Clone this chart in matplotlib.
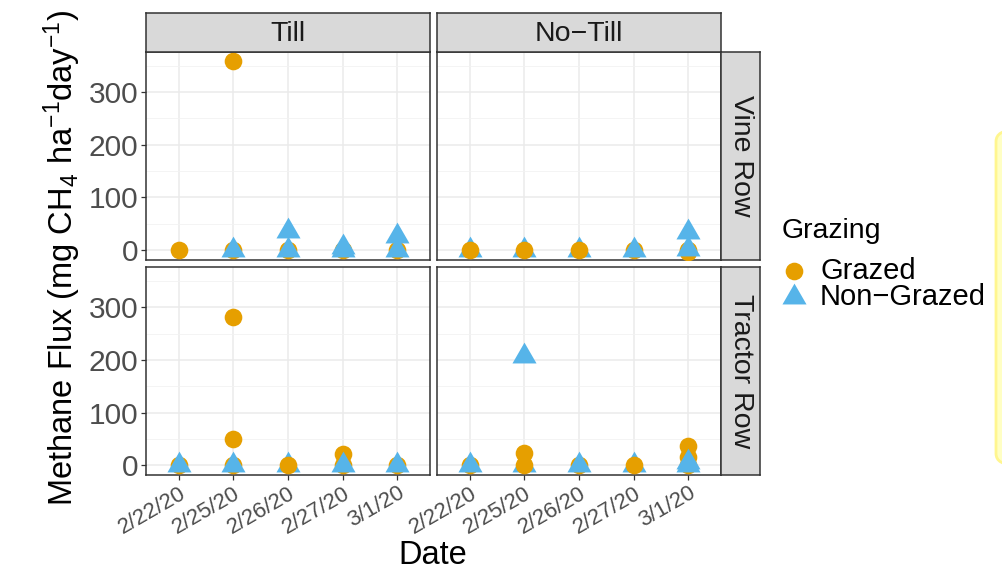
import matplotlib
matplotlib.use('Agg')
import matplotlib.pyplot as plt
from matplotlib.lines import Line2D
from matplotlib.path import Path
from matplotlib.patches import FancyBboxPatch
from matplotlib.ticker import MultipleLocator

plt.rcParams['font.family'] = ['Liberation Sans', 'DejaVu Sans']
plt.rcParams['mathtext.fontset'] = 'custom'
plt.rcParams['mathtext.rm'] = 'Liberation Sans'
plt.rcParams['mathtext.it'] = 'Liberation Sans:italic'

dates = ['2/22/20', '2/25/20', '2/26/20', '2/27/20', '3/1/20']
tillage = ['Till', 'No\u2212Till']
rows = ['Vine Row', 'Tractor Row']
groups = ['Grazed', 'Non\u2212Grazed']

# points per panel in drawing order: date index, flux, group (0 grazed, 1 non-grazed)
till_vine_date = [0, 1, 1, 1, 2, 2, 2, 3, 3, 3, 4, 4, 4]
till_vine_flux = [0, 358, 0, 0, 0, 0, 37, 0, 0, 5, 0, 0, 27]
till_vine_grp = [0, 0, 0, 1, 0, 1, 1, 0, 1, 1, 0, 1, 1]

notill_vine_date = [0, 0, 1, 1, 2, 2, 3, 3, 4, 4, 4, 4]
notill_vine_flux = [0, 0, 0, 0, 0, 0, 0, 0, -3, 0, 1, 34]
notill_vine_grp = [1, 0, 1, 0, 1, 0, 0, 1, 0, 0, 1, 1]

till_tractor_date = [0, 0, 1, 1, 1, 1, 2, 2, 3, 3, 3, 4, 4]
till_tractor_flux = [0, 0, 281, 50, 0, 0, 0, 0, 22, 0, 1, 0, 0]
till_tractor_grp = [0, 1, 0, 0, 0, 1, 1, 0, 0, 0, 1, 0, 1]

notill_tractor_date = [0, 0, 1, 1, 1, 1, 2, 2, 3, 3, 4, 4, 4, 4, 4]
notill_tractor_flux = [0, 1, 0, 208, 24, 1, 0, 0, 0, 0, 0, 36, 17, 0, 7]
notill_tractor_grp = [0, 1, 1, 1, 0, 0, 0, 1, 1, 0, 0, 0, 0, 1, 1]

panels = {
    (0, 0): (till_vine_date, till_vine_flux, till_vine_grp),
    (0, 1): (notill_vine_date, notill_vine_flux, notill_vine_grp),
    (1, 0): (till_tractor_date, till_tractor_flux, till_tractor_grp),
    (1, 1): (notill_tractor_date, notill_tractor_flux, notill_tractor_grp),
}

colors = ['#E69F00', '#56B4E9']
tri = Path([(0, 0.577), (-0.5, -0.289), (0.5, -0.289), (0, 0.577)],
           [Path.MOVETO, Path.LINETO, Path.LINETO, Path.CLOSEPOLY])
markers = ['o', tri]
sizes = [12.7 ** 2, 20 ** 2]

W, H = 1002, 572
fig = plt.figure(figsize=(W / 100, H / 100), dpi=100)


def rect(x0, y0, x1, y1):
    return [x0 / W, 1 - y1 / H, (x1 - x0) / W, (y1 - y0) / H]


col_x = [(146, 430), (437, 721)]
row_y = [(52, 259.5), (267, 475)]
frame = '#333333'
grey = '#4D4D4D'

for (r, c), (d, v, g) in panels.items():
    ax = fig.add_axes(rect(col_x[c][0], row_y[r][0], col_x[c][1], row_y[r][1]))
    for k in range(len(d)):
        ax.scatter(d[k], v[k], s=sizes[g[k]], marker=markers[g[k]],
                   color=colors[g[k]], linewidths=0, zorder=3 + k * 0.01)
    ax.set_xlim(-0.6, 4.6)
    ax.set_ylim(-18, 376)
    ax.yaxis.set_major_locator(MultipleLocator(100))
    ax.yaxis.set_minor_locator(MultipleLocator(50))
    ax.set_xticks(range(len(dates)))
    ax.grid(True, which='major', color='#EBEBEB', linewidth=1.1)
    ax.grid(True, which='minor', axis='y', color='#F2F2F2', linewidth=0.6)
    ax.set_axisbelow(True)
    for s in ax.spines.values():
        s.set_color(frame)
        s.set_linewidth(1.1)
    ax.tick_params(which='minor', length=0)
    ax.tick_params(which='major', color=frame, length=3.5, width=0.9,
                   labelcolor=grey, labelsize=21.5, pad=2)
    if c == 0:
        ax.set_yticks([0, 100, 200, 300])
    else:
        ax.tick_params(axis='y', labelleft=False, length=0)
    if r == 1:
        ax.set_xticklabels(dates, rotation=30, ha='right', rotation_mode='anchor',
                           fontsize=16)
    else:
        ax.tick_params(axis='x', labelbottom=False, length=0)

# strips
for c in range(2):
    sa = fig.add_axes(rect(col_x[c][0], 13, col_x[c][1], 52))
    sa.set_facecolor('#D9D9D9')
    sa.set_xticks([])
    sa.set_yticks([])
    for s in sa.spines.values():
        s.set_color(frame)
        s.set_linewidth(1.1)
    sa.text(0.5, 0.47, tillage[c], ha='center', va='center', fontsize=20.5,
            color='#1A1A1A', transform=sa.transAxes)
for r in range(2):
    sa = fig.add_axes(rect(721, row_y[r][0], 760, row_y[r][1]))
    sa.set_facecolor('#D9D9D9')
    sa.set_xticks([])
    sa.set_yticks([])
    for s in sa.spines.values():
        s.set_color(frame)
        s.set_linewidth(1.1)
    sa.text(0.5, 0.5, rows[r], ha='center', va='center', fontsize=20.5,
            rotation=270, color='#1A1A1A', transform=sa.transAxes)

# axis titles
fig.text(62 / W, 1 - 258 / H, r'Methane Flux (mg CH$_4$ ha$^{-1}$day$^{-1}$)',
         rotation=90, ha='center', va='center', fontsize=23.5)
fig.text(433 / W, 1 - 555 / H, 'Date', ha='center', va='center', fontsize=23.5)

# legend
fig.text(782 / W, 1 - 231 / H, 'Grazing', ha='left', va='center', fontsize=20.5)
leg_y = [271, 297]
for i in range(2):
    fig.add_artist(Line2D([794 / W], [1 - leg_y[i] / H], transform=fig.transFigure,
                          marker=markers[i], markersize=[12.7, 20][i],
                          color=colors[i], linestyle='none', markeredgewidth=0))
    fig.text(820 / W, 1 - leg_y[i] / H, groups[i], ha='left', va='center', fontsize=21)

# yellow note box partly off the right edge
box = FancyBboxPatch((996 / W, 1 - 465 / H), 40 / W, 335 / H,
                     boxstyle='round,pad=0,rounding_size=0.02',
                     transform=fig.transFigure, facecolor='#FFFFC4',
                     edgecolor='#FFF68F', linewidth=2)
fig.add_artist(box)

fig.savefig('out.png', dpi=100)
